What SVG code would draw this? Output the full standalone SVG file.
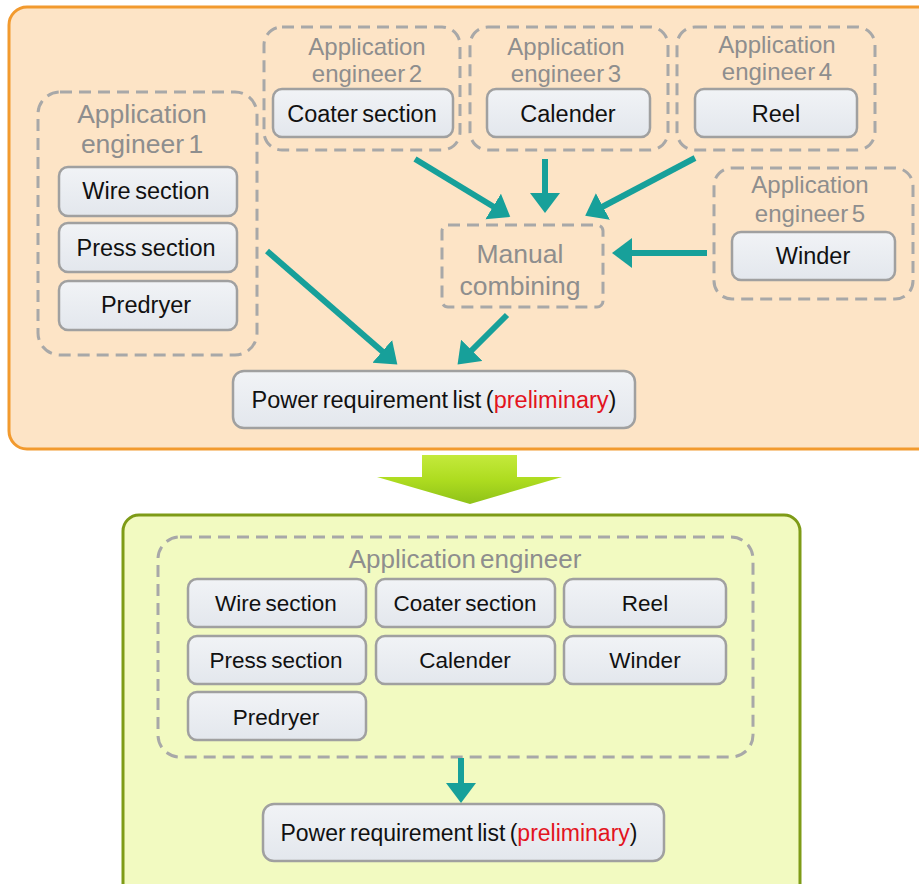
<svg xmlns="http://www.w3.org/2000/svg" width="919" height="884" viewBox="0 0 919 884">
  <defs>
    <linearGradient id="boxFill" x1="0" y1="0" x2="0" y2="1">
      <stop offset="0" stop-color="#f1f3f6"/>
      <stop offset="1" stop-color="#e3e7ed"/>
    </linearGradient>
    <linearGradient id="bigArrowFill" x1="0" y1="0" x2="0" y2="1">
      <stop offset="0" stop-color="#c4ea3c"/>
      <stop offset="0.5" stop-color="#aedc20"/>
      <stop offset="1" stop-color="#8fc218"/>
    </linearGradient>
    <marker id="head" markerUnits="userSpaceOnUse" markerWidth="22" markerHeight="32" refX="1" refY="15" orient="auto">
      <path d="M0,0 L20,15 L0,30 z" fill="#17a09a"/>
    </marker>
  </defs>
  <style>
    .panelTop { fill: #fde4c6; stroke: #f29a2e; stroke-width: 3; }
    .panelBottom { fill: #f2fac1; stroke: #7e9b17; stroke-width: 3; }
    .group { fill: none; stroke: #a8a8a8; stroke-width: 3; stroke-dasharray: 12 7; }
    .box { fill: url(#boxFill); stroke: #a0a0a0; stroke-width: 2.5; }
    .txt { font-family: "Liberation Sans", Arial, sans-serif; font-size: 23.5px; fill: #111; text-anchor: middle; word-spacing: -2px; }
    .txtSm { font-size: 22.5px; }
    .lbl { font-family: "Liberation Sans", Arial, sans-serif; font-size: 24px; fill: #8e8e8e; text-anchor: middle; word-spacing: -3px; }
    .lblBig { font-size: 26.5px; }
    .red { fill: #e3141e; }
    .conn { stroke: #17a09a; stroke-width: 6; fill: none; marker-end: url(#head); }
  </style>

  <!-- upper panel: separate engineers -->
  <rect class="panelTop" x="9" y="7" width="930" height="442" rx="18"/>

  <g id="engineer1">
    <rect class="group" x="38" y="92" width="219" height="263" rx="22"/>
    <text class="lbl lblBig" x="142" y="123">Application</text>
    <text class="lbl lblBig" x="142" y="153">engineer 1</text>
  </g>
  <g id="wire-section-1">
    <rect class="box" x="59" y="167" width="178" height="49" rx="9"/>
    <text class="txt" x="146" y="199">Wire section</text>
  </g>
  <g id="press-section-1">
    <rect class="box" x="59" y="223" width="178" height="49" rx="9"/>
    <text class="txt" x="146" y="256">Press section</text>
  </g>
  <g id="predryer-1">
    <rect class="box" x="59" y="281" width="178" height="49" rx="9"/>
    <text class="txt" x="146" y="313">Predryer</text>
  </g>

  <g id="engineer2">
    <rect class="group" x="264" y="27" width="196" height="123" rx="18"/>
    <text class="lbl" x="367" y="55">Application</text>
    <text class="lbl" x="367" y="82">engineer 2</text>
  </g>
  <g id="coater-section-1">
    <rect class="box" x="273" y="89" width="180" height="48" rx="9"/>
    <text class="txt" x="362" y="122">Coater section</text>
  </g>

  <g id="engineer3">
    <rect class="group" x="470" y="27" width="198" height="123" rx="18"/>
    <text class="lbl" x="566" y="55">Application</text>
    <text class="lbl" x="566" y="82">engineer 3</text>
  </g>
  <g id="calender-1">
    <rect class="box" x="487" y="89" width="163" height="48" rx="9"/>
    <text class="txt" x="568" y="122">Calender</text>
  </g>

  <g id="engineer4">
    <rect class="group" x="677" y="27" width="198" height="123" rx="18"/>
    <text class="lbl" x="777" y="53">Application</text>
    <text class="lbl" x="777" y="80">engineer 4</text>
  </g>
  <g id="reel-1">
    <rect class="box" x="695" y="89" width="162" height="48" rx="9"/>
    <text class="txt" x="776" y="122">Reel</text>
  </g>

  <g id="engineer5">
    <rect class="group" x="714" y="168" width="199" height="131" rx="18"/>
    <text class="lbl" x="810" y="193">Application</text>
    <text class="lbl" x="810" y="222">engineer 5</text>
  </g>
  <g id="winder-1">
    <rect class="box" x="732" y="232" width="163" height="48" rx="9"/>
    <text class="txt" x="813" y="264">Winder</text>
  </g>

  <g id="manual-combining">
    <rect class="group" x="442" y="225" width="161" height="82" rx="6"/>
    <text class="lbl lblBig" x="520" y="263">Manual</text>
    <text class="lbl lblBig" x="520" y="295">combining</text>
  </g>

  <g id="power-list-1">
    <rect class="box" x="233" y="371" width="402" height="57" rx="11"/>
    <text class="txt" x="434" y="408">Power requirement list (<tspan class="red">preliminary</tspan>)</text>
  </g>

  <!-- transition arrow between the two panels -->
  <g id="transition-arrow">
    <path d="M422,455 L517,455 L517,477 L562,477 L470,504 L377,477 L422,477 Z" fill="url(#bigArrowFill)"/>
  </g>

  <!-- lower panel: single engineer -->
  <rect class="panelBottom" x="123" y="515" width="677" height="390" rx="16"/>

  <g id="engineer-all">
    <rect class="group" x="158" y="537" width="595" height="220" rx="22"/>
    <text class="lbl" x="465" y="568" style="font-size:26px">Application engineer</text>
  </g>
  <g id="wire-section-2">
    <rect class="box" x="188" y="579" width="178" height="48" rx="9"/>
    <text class="txt txtSm" x="276" y="611">Wire section</text>
  </g>
  <g id="coater-section-2">
    <rect class="box" x="376" y="579" width="179" height="48" rx="9"/>
    <text class="txt txtSm" x="465" y="611">Coater section</text>
  </g>
  <g id="reel-2">
    <rect class="box" x="564" y="579" width="162" height="48" rx="9"/>
    <text class="txt txtSm" x="645" y="611">Reel</text>
  </g>
  <g id="press-section-2">
    <rect class="box" x="188" y="636" width="178" height="48" rx="9"/>
    <text class="txt txtSm" x="276" y="668">Press section</text>
  </g>
  <g id="calender-2">
    <rect class="box" x="376" y="636" width="179" height="48" rx="9"/>
    <text class="txt txtSm" x="465" y="668">Calender</text>
  </g>
  <g id="winder-2">
    <rect class="box" x="564" y="636" width="162" height="48" rx="9"/>
    <text class="txt txtSm" x="645" y="668">Winder</text>
  </g>
  <g id="predryer-2">
    <rect class="box" x="188" y="692" width="178" height="48" rx="9"/>
    <text class="txt txtSm" x="276" y="725">Predryer</text>
  </g>

  <g id="power-list-2">
    <rect class="box" x="263" y="804" width="401" height="57" rx="11"/>
    <text class="txt" x="459" y="841" style="font-size:23px">Power requirement list (<tspan class="red">preliminary</tspan>)</text>
  </g>

  <!-- connectors -->
  <g id="connectors">
    <line class="conn" x1="415" y1="159" x2="494" y2="207"/>
    <line class="conn" x1="545" y1="159" x2="545" y2="194"/>
    <line class="conn" x1="695" y1="158" x2="602" y2="207"/>
    <line class="conn" x1="707" y1="253" x2="631" y2="253"/>
    <line class="conn" x1="267" y1="251" x2="383" y2="352"/>
    <line class="conn" x1="507" y1="315" x2="471" y2="351"/>
    <line class="conn" x1="461" y1="758" x2="461" y2="784"/>
  </g>
</svg>
